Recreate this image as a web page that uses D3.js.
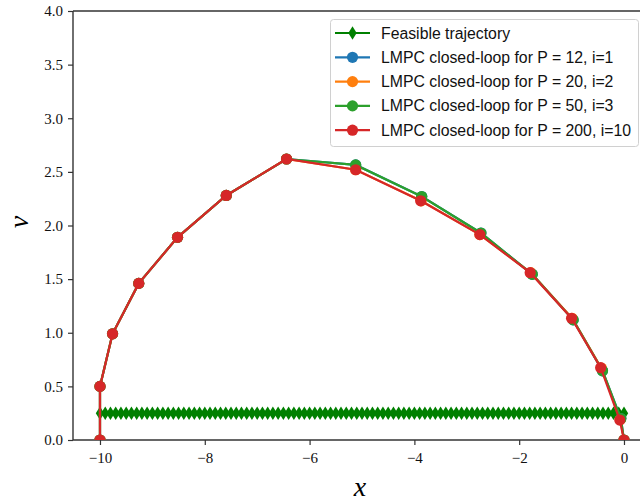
<!DOCTYPE html>
<html>
<head>
<meta charset="utf-8">
<script src="https://cdn.jsdelivr.net/npm/d3@7"></script>
<style>
  html, body { margin: 0; padding: 0; background: #fff; }
  svg { display: block; }
</style>
</head>
<body>
<svg id="chart" width="640" height="503"></svg>
<script>
// Feasible trajectory: position samples along x at constant speed v = 0.25
const feasibleX = [
  -10.0, -9.9, -9.8, -9.7, -9.6, -9.5, -9.4, -9.3, -9.2, -9.1,
  -9.0, -8.9, -8.8, -8.7, -8.6, -8.5, -8.4, -8.3, -8.2, -8.1,
  -8.0, -7.9, -7.8, -7.7, -7.6, -7.5, -7.4, -7.3, -7.2, -7.1,
  -7.0, -6.9, -6.8, -6.7, -6.6, -6.5, -6.4, -6.3, -6.2, -6.1,
  -6.0, -5.9, -5.8, -5.7, -5.6, -5.5, -5.4, -5.3, -5.2, -5.1,
  -5.0, -4.9, -4.8, -4.7, -4.6, -4.5, -4.4, -4.3, -4.2, -4.1,
  -4.0, -3.9, -3.8, -3.7, -3.6, -3.5, -3.4, -3.3, -3.2, -3.1,
  -3.0, -2.9, -2.8, -2.7, -2.6, -2.5, -2.4, -2.3, -2.2, -2.1,
  -2.0, -1.9, -1.8, -1.7, -1.6, -1.5, -1.4, -1.3, -1.2, -1.1,
  -1.0, -0.9, -0.8, -0.7, -0.6, -0.5, -0.4, -0.3, -0.2, -0.1, 0.0
];
const feasibleV = 0.25;

// LMPC closed-loop trajectories (x, v) for each iteration
const lmpcP12X  = [-10.0, -10.0, -9.76, -9.26, -8.52, -7.59, -6.44, -5.12, -3.86, -2.73, -1.75, -0.97, -0.41, -0.06, 0.0];
const lmpcP12V  = [0.0, 0.5, 0.99, 1.46, 1.89, 2.28, 2.62, 2.565, 2.27, 1.93, 1.545, 1.12, 0.645, 0.20, 0.0];
const lmpcP20X  = [-10.0, -10.0, -9.76, -9.26, -8.52, -7.59, -6.44, -5.12, -3.87, -2.75, -1.78, -0.99, -0.43, -0.07, 0.0];
const lmpcP20V  = [0.0, 0.5, 0.99, 1.46, 1.89, 2.28, 2.62, 2.52, 2.23, 1.915, 1.56, 1.135, 0.67, 0.19, 0.0];
const lmpcP50X  = [-10.0, -10.0, -9.76, -9.26, -8.52, -7.59, -6.44, -5.12, -3.86, -2.73, -1.75, -0.97, -0.41, -0.06, 0.0];
const lmpcP50V  = [0.0, 0.5, 0.99, 1.46, 1.89, 2.28, 2.62, 2.565, 2.27, 1.93, 1.545, 1.12, 0.645, 0.20, 0.0];
const lmpcP200X = [-10.0, -10.0, -9.76, -9.26, -8.52, -7.59, -6.44, -5.12, -3.88, -2.75, -1.79, -1.0, -0.445, -0.08, 0.0];
const lmpcP200V = [0.0, 0.5, 0.99, 1.46, 1.89, 2.28, 2.62, 2.52, 2.23, 1.915, 1.56, 1.135, 0.674, 0.186, 0.0];

const seriesLabels = [
  "Feasible trajectory",
  "LMPC closed-loop for P = 12, i=1",
  "LMPC closed-loop for P = 20, i=2",
  "LMPC closed-loop for P = 50, i=3",
  "LMPC closed-loop for P = 200, i=10"
];
const seriesColors = ["#008000", "#1f77b4", "#ff7f0e", "#2ca02c", "#d62728"];

const xTicks = [-10, -8, -6, -4, -2, 0];
const yTicks = [0.0, 0.5, 1.0, 1.5, 2.0, 2.5, 3.0, 3.5, 4.0];

const svg = d3.select("#chart");
const plot = { left: 73, top: 11, bottom: 440 };

const x = d3.scaleLinear().domain([-10.515, 0.815]).range([plot.left, plot.left + 11.33 * 52.4]);
const y = d3.scaleLinear().domain([0, 4]).range([plot.bottom, plot.top]);

svg.append("defs").append("clipPath").attr("id", "plotClip")
  .append("rect")
  .attr("x", x.range()[0]).attr("y", plot.top)
  .attr("width", x.range()[1] - x.range()[0]).attr("height", plot.bottom - plot.top);

const tickFont = "'Liberation Serif', 'DejaVu Serif', serif";
const fmtX = d => (d < 0 ? "\u2212" + Math.abs(d) : String(d));

// axes
const xAxis = svg.append("g").attr("transform", `translate(0,${plot.bottom})`)
  .call(d3.axisBottom(x).tickValues(xTicks).tickFormat(fmtX).tickSize(5).tickPadding(7));
const yAxis = svg.append("g").attr("transform", `translate(${plot.left},0)`)
  .call(d3.axisLeft(y).tickValues(yTicks).tickFormat(d3.format(".1f")).tickSize(5).tickPadding(5));
[xAxis, yAxis].forEach(g => {
  g.select(".domain").remove();
  g.selectAll(".tick line").attr("stroke", "#333").attr("stroke-width", 1.2);
  g.selectAll(".tick text").attr("font-family", tickFont).attr("font-size", 15).attr("fill", "#111");
});

// spines
const spine = (x1, y1, x2, y2) => svg.append("line")
  .attr("x1", x1).attr("y1", y1).attr("x2", x2).attr("y2", y2)
  .attr("stroke", "#333").attr("stroke-width", 1.4);
spine(plot.left, plot.top, plot.left, plot.bottom);
spine(plot.left, plot.bottom, 660, plot.bottom);
spine(plot.left, plot.top, 660, plot.top);

// data layer
const layer = svg.append("g").attr("clip-path", "url(#plotClip)");

// feasible trajectory: thin diamonds
const feasible = feasibleX.map(d => [d, feasibleV]);
const line = d3.line().x(d => x(d[0])).y(d => y(d[1]));
layer.append("path").datum(feasible).attr("d", line)
  .attr("fill", "none").attr("stroke", seriesColors[0]).attr("stroke-width", 2.2);
const diamond = (cx, cy, hw, hh) => `M${cx},${cy - hh}L${cx + hw},${cy}L${cx},${cy + hh}L${cx - hw},${cy}Z`;
layer.selectAll("path.feas").data(feasible).enter().append("path")
  .attr("class", "feas")
  .attr("d", d => diamond(x(d[0]), y(d[1]), 4.2, 6.8))
  .attr("fill", seriesColors[0]);

// LMPC iterations
const lmpc = [
  [lmpcP12X, lmpcP12V],
  [lmpcP20X, lmpcP20V],
  [lmpcP50X, lmpcP50V],
  [lmpcP200X, lmpcP200V]
];
lmpc.forEach(([xs, vs], i) => {
  const pts = xs.map((d, k) => [d, vs[k]]);
  const col = seriesColors[i + 1];
  layer.append("path").datum(pts).attr("d", line)
    .attr("fill", "none").attr("stroke", col).attr("stroke-width", 2.2);
  layer.selectAll(null).data(pts).enter().append("circle")
    .attr("cx", d => x(d[0])).attr("cy", d => y(d[1])).attr("r", 5.6)
    .attr("fill", col);
});

// axis labels
svg.append("text").attr("x", 360).attr("y", 496).attr("text-anchor", "middle")
  .attr("font-family", tickFont).attr("font-style", "italic").attr("font-size", 28)
  .text("x");
svg.append("text").attr("transform", "translate(28,222) rotate(-90)").attr("text-anchor", "middle")
  .attr("font-family", tickFont).attr("font-style", "italic").attr("font-size", 28)
  .text("v");

// legend
const lg = svg.append("g");
lg.append("rect").attr("x", 330.5).attr("y", 19.5).attr("width", 308).attr("height", 127)
  .attr("rx", 3).attr("fill", "#fff").attr("fill-opacity", 0.85)
  .attr("stroke", "#d0d0d0").attr("stroke-width", 1);
seriesLabels.forEach((lab, i) => {
  const ry = 33 + i * 24.3;
  lg.append("line").attr("x1", 335).attr("x2", 370).attr("y1", ry).attr("y2", ry)
    .attr("stroke", seriesColors[i]).attr("stroke-width", 2.2);
  if (i === 0) {
    lg.append("path").attr("d", diamond(352.5, ry, 4.2, 6.8)).attr("fill", seriesColors[0]);
  } else {
    lg.append("circle").attr("cx", 352.5).attr("cy", ry).attr("r", 5.6).attr("fill", seriesColors[i]);
  }
  lg.append("text").attr("x", 381).attr("y", ry + 5.5)
    .attr("font-family", "'Liberation Sans', Arial, sans-serif").attr("font-size", 15.8)
    .attr("fill", "#111").text(lab);
});
</script>
</body>
</html>
